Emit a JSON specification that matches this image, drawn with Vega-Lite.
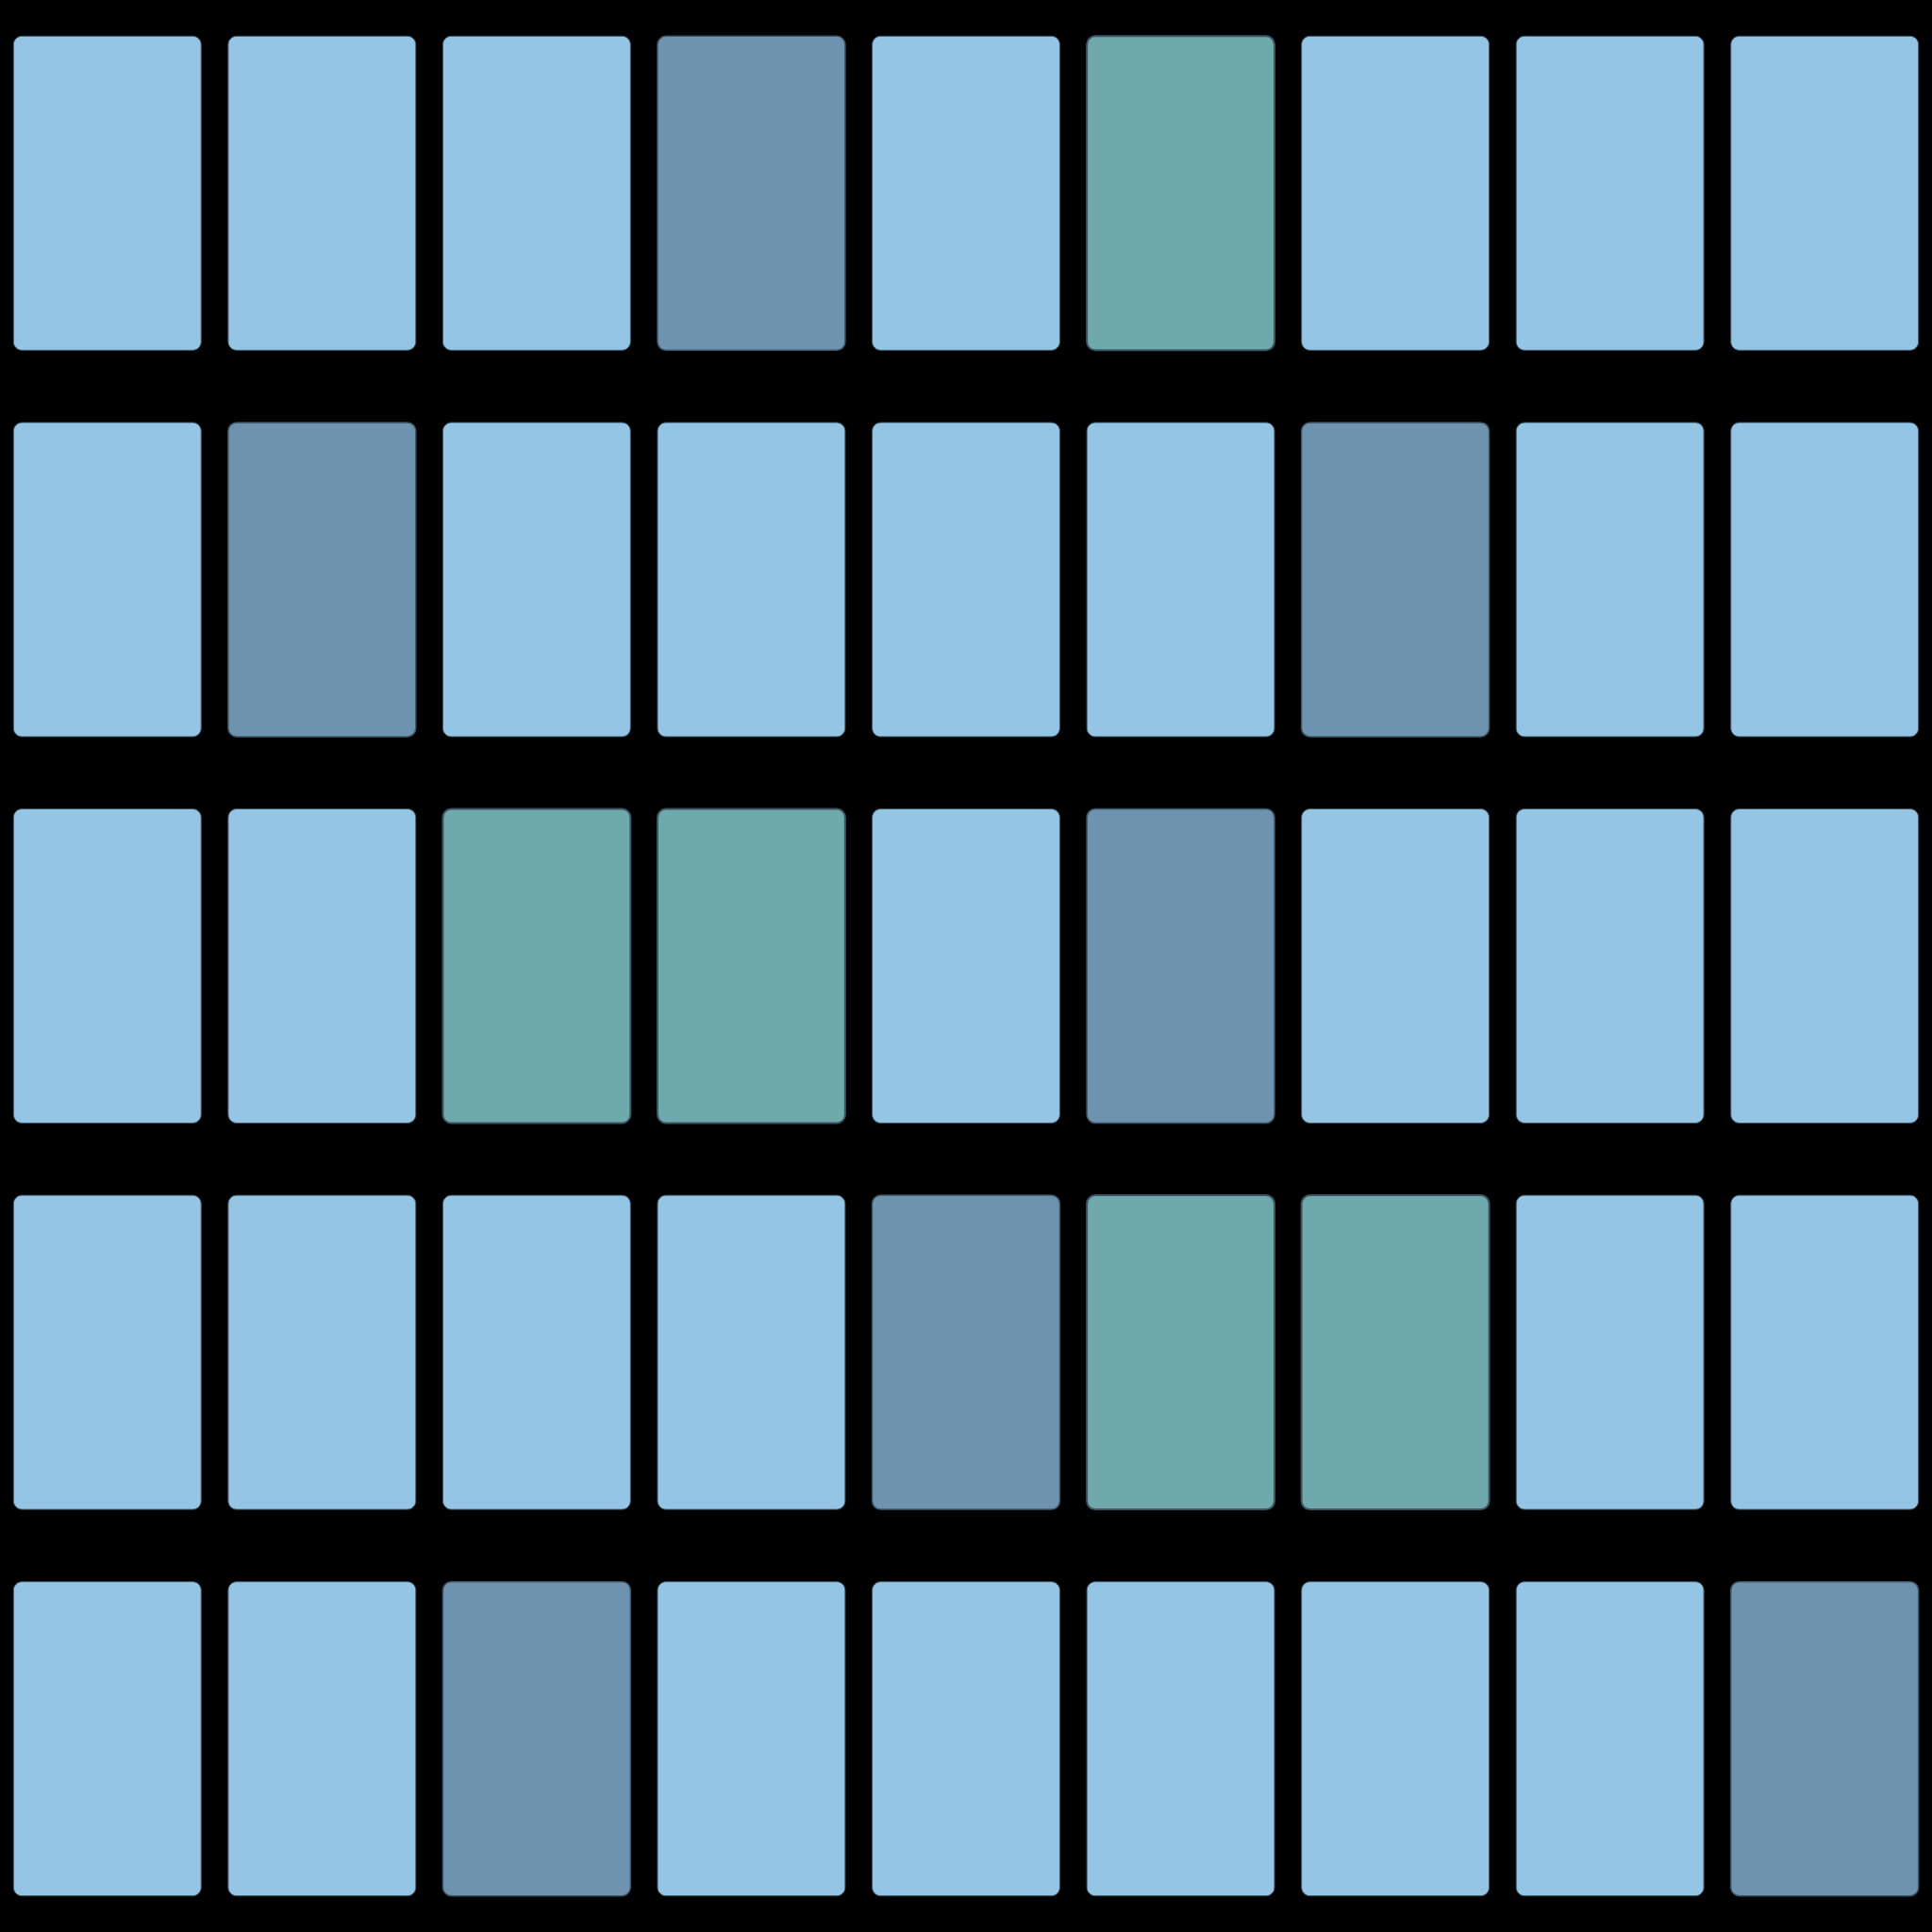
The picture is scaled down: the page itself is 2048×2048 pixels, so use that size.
{
  "$schema": "https://vega.github.io/schema/vega-lite/v6.json",
  "autosize": {"type": "fit", "contains": "padding"},
  "width": 2048,
  "height": 2048,
  "padding": 0,
  "background": "#000000",
  "config": {"view": {"stroke": null}},
  "data": {
    "values": [
      {"row": 1, "col": 1, "kind": "a"}, {"row": 1, "col": 2, "kind": "a"}, {"row": 1, "col": 3, "kind": "a"}, {"row": 1, "col": 4, "kind": "b"}, {"row": 1, "col": 5, "kind": "a"}, {"row": 1, "col": 6, "kind": "c"}, {"row": 1, "col": 7, "kind": "a"}, {"row": 1, "col": 8, "kind": "a"}, {"row": 1, "col": 9, "kind": "a"},
      {"row": 2, "col": 1, "kind": "a"}, {"row": 2, "col": 2, "kind": "b"}, {"row": 2, "col": 3, "kind": "a"}, {"row": 2, "col": 4, "kind": "a"}, {"row": 2, "col": 5, "kind": "a"}, {"row": 2, "col": 6, "kind": "a"}, {"row": 2, "col": 7, "kind": "b"}, {"row": 2, "col": 8, "kind": "a"}, {"row": 2, "col": 9, "kind": "a"},
      {"row": 3, "col": 1, "kind": "a"}, {"row": 3, "col": 2, "kind": "a"}, {"row": 3, "col": 3, "kind": "c"}, {"row": 3, "col": 4, "kind": "c"}, {"row": 3, "col": 5, "kind": "a"}, {"row": 3, "col": 6, "kind": "b"}, {"row": 3, "col": 7, "kind": "a"}, {"row": 3, "col": 8, "kind": "a"}, {"row": 3, "col": 9, "kind": "a"},
      {"row": 4, "col": 1, "kind": "a"}, {"row": 4, "col": 2, "kind": "a"}, {"row": 4, "col": 3, "kind": "a"}, {"row": 4, "col": 4, "kind": "a"}, {"row": 4, "col": 5, "kind": "b"}, {"row": 4, "col": 6, "kind": "c"}, {"row": 4, "col": 7, "kind": "c"}, {"row": 4, "col": 8, "kind": "a"}, {"row": 4, "col": 9, "kind": "a"},
      {"row": 5, "col": 1, "kind": "a"}, {"row": 5, "col": 2, "kind": "a"}, {"row": 5, "col": 3, "kind": "b"}, {"row": 5, "col": 4, "kind": "a"}, {"row": 5, "col": 5, "kind": "a"}, {"row": 5, "col": 6, "kind": "a"}, {"row": 5, "col": 7, "kind": "a"}, {"row": 5, "col": 8, "kind": "a"}, {"row": 5, "col": 9, "kind": "b"}
    ]
  },
  "mark": {"type": "rect", "cornerRadius": 9, "stroke": "#3f5566", "strokeWidth": 1},
  "encoding": {
    "x": {"field": "col", "type": "ordinal", "axis": null, "scale": {"paddingInner": 0.126, "paddingOuter": 0.063}},
    "y": {"field": "row", "type": "ordinal", "axis": null, "scale": {"paddingInner": 0.187, "paddingOuter": 0.0935}},
    "color": {"field": "kind", "type": "nominal", "legend": null, "scale": {"domain": ["a", "b", "c"], "range": ["#95c5e4", "#6e93ae", "#6eaaab"]}},
    "strokeWidth": {"field": "kind", "type": "nominal", "legend": null, "scale": {"domain": ["a", "b", "c"], "range": [1, 2, 2]}}
  }
}
